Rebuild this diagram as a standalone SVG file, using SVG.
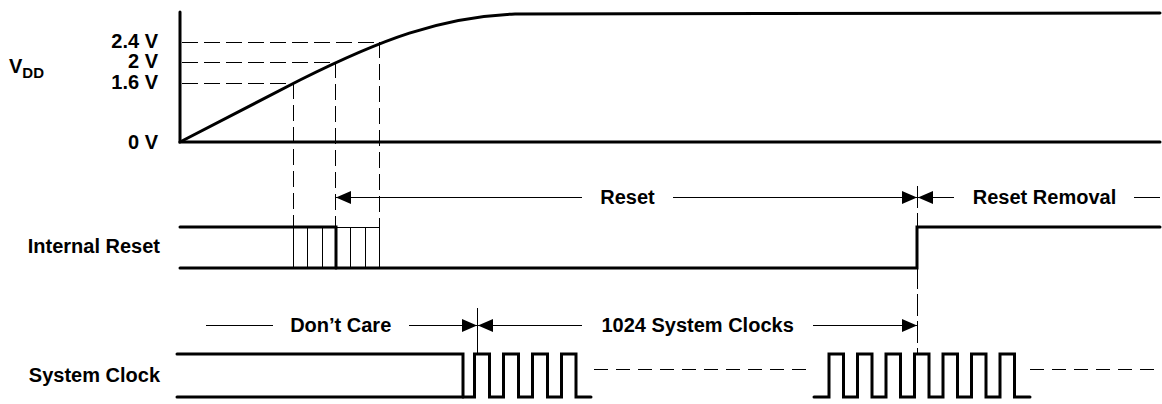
<svg xmlns="http://www.w3.org/2000/svg" width="1162" height="404" viewBox="0 0 1162 404">
<style>
  text { font-family: "Liberation Sans", Arial, sans-serif; font-weight: bold; font-size: 20px; fill: #000; }
  .thick { stroke: #000; stroke-width: 3; fill: none; stroke-linecap: round; stroke-linejoin: miter; }
  .thin { stroke: #000; stroke-width: 1; fill: none; shape-rendering: crispEdges; }
  .dash { stroke: #000; stroke-width: 1; fill: none; stroke-dasharray: 16 6; shape-rendering: crispEdges; }
  .dash2 { stroke: #000; stroke-width: 1; fill: none; stroke-dasharray: 14 8; shape-rendering: crispEdges; }
  .arr { stroke: #000; stroke-width: 1; fill: none; marker-end: url(#ah); shape-rendering: crispEdges; }
</style>
<defs>
  <marker id="ah" viewBox="0 0 15 13" refX="15" refY="6.5" markerWidth="15" markerHeight="13" markerUnits="userSpaceOnUse" orient="auto">
    <path d="M0,0 L15,6.5 L0,13 z" fill="#000"/>
  </marker>
</defs>
<rect width="1162" height="404" fill="#fff"/>

<g id="vdd">
  <text x="9" y="73">V<tspan font-size="15" dy="5">DD</tspan></text>
  <text x="158" y="48" text-anchor="end">2.4 V</text>
  <text x="158" y="68" text-anchor="end">2 V</text>
  <text x="158" y="89" text-anchor="end">1.6 V</text>
  <text x="158" y="149" text-anchor="end">0 V</text>
  <path class="thick" d="M180,12 V142 H1160"/>
  <path class="thick" d="M180,142 L300,80 C380,40 440,17 515,14 L1160,13"/>
</g>

<g id="internal-reset">
  <text x="160" y="253" text-anchor="end">Internal Reset</text>
  <path class="thick" d="M180,227 H336 V268"/>
  <path class="thick" d="M180,268 H917 V227 H1160"/>
  <path class="thin" d="M293.5,227 V268 M307.5,227 V268 M322.5,227 V268 M350.5,227 V268 M365.5,227 V268 M379.5,227 V268 M336,227.5 H379"/>
</g>

<g id="system-clock">
  <text x="160" y="382" text-anchor="end">System Clock</text>
  <path class="thick" d="M177,354 H463 V397"/>
  <path class="thick" d="M177,397 H474.5 V354 H489.5 V397 H503.5 V354 H518.5 V397 H532.5 V354 H547.5 V397 H561.5 V354 H576 V397 H591"/>
  <path class="thick" d="M814,397 H829 V354 H843.5 V397 H857.5 V354 H872 V397 H886 V354 H900.5 V397 H914.5 V354 H929 V397 H943 V354 H957.5 V397 H971.5 V354 H986 V397 H1000 V354 H1014.5 V397 H1030"/>
  <path class="dash2" d="M594,369.5 H812 M1030,369.5 H1160"/>
</g>

<g id="connectors">
  <path class="dash" d="M182,42.5 H379 M182,62.5 H335 M182,83.5 H293"/>
  <path class="dash" d="M293.5,83 V227 M335.5,62 V227 M379.5,42 V227"/>
  <path class="thin" d="M917.5,186 V353" stroke-dasharray="22 5"/>
  <path class="thin" d="M477.5,308 V353"/>
  <line class="arr" x1="582" y1="197.5" x2="336" y2="197.5"/>
  <line class="arr" x1="673" y1="197.5" x2="917" y2="197.5"/>
  <line class="arr" x1="954" y1="197.5" x2="918" y2="197.5"/>
  <line class="thin" x1="1134" y1="197.5" x2="1160" y2="197.5"/>
  <line class="thin" x1="206" y1="325.5" x2="273" y2="325.5"/>
  <line class="arr" x1="409" y1="325.5" x2="477" y2="325.5"/>
  <line class="arr" x1="582" y1="325.5" x2="478" y2="325.5"/>
  <line class="arr" x1="813" y1="325.5" x2="917" y2="325.5"/>
</g>

<g id="labels">
  <text x="627.5" y="204" text-anchor="middle">Reset</text>
  <text x="1044.5" y="204" text-anchor="middle">Reset Removal</text>
  <text x="340.7" y="332" text-anchor="middle">Don’t Care</text>
  <text x="697.6" y="332" text-anchor="middle">1024 System Clocks</text>
</g>
</svg>
